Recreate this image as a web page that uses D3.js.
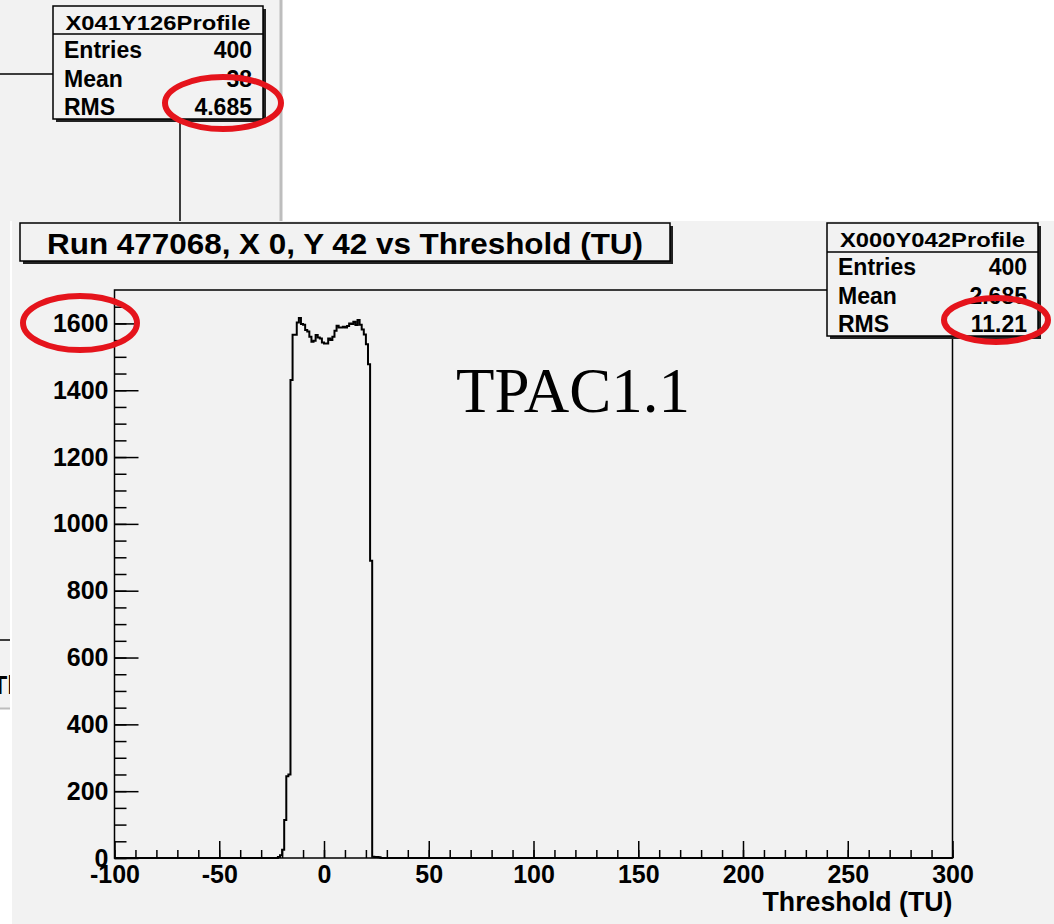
<!DOCTYPE html>
<html>
<head>
<meta charset="utf-8">
<script src="https://cdn.jsdelivr.net/npm/d3@7"></script>
<style>
  body { margin: 0; background: #fff; }
  svg { display: block; }
  text { font-family: "Liberation Sans", Arial, Helvetica, sans-serif; font-weight: bold; }
</style>
</head>
<body>
<div id="chart"></div>
<script>
/**
 * DATA
 * one bin per threshold unit, counts start at firstBin
 */
const firstBin = -22;
const counts = [3, 8, 25, 114, 245, 250,
  1431, 1566, 1566, 1603, 1616, 1598, 1596, 1580, 1576, 1560,
  1545, 1548, 1565, 1558, 1555, 1543, 1540, 1540, 1555, 1550,
  1560, 1578, 1593, 1588, 1588, 1590, 1588, 1592, 1600, 1598,
  1605, 1595, 1610, 1596, 1582, 1567, 1538, 1478, 890,
  4, 3, 3, 2];
const xTicks = [-100, -50, 0, 50, 100, 150, 200, 250, 300];
const yTicks = [0, 200, 400, 600, 800, 1000, 1200, 1400, 1600];

const titleText = "Run 477068, X 0, Y 42 vs Threshold (TU)";
const xTitle = "Threshold (TU)";
const statNames = ["Entries", "Mean", "RMS"];
const mainStats = { name: "X000Y042Profile", values: ["400", "2.685", "11.21"] };
const oldStats = { name: "X041Y126Profile", values: ["400", "38", "4.685"] };

/**
 * CONSTANTS
 */
const width = 1054, height = 924;
const bg = "#f2f2f2";
const frame = { left: 114.5, right: 952.5, top: 290, bottom: 858 };

const svg = d3.select("#chart").append("svg")
  .attr("width", width)
  .attr("height", height);

svg.append("rect").attr("width", width).attr("height", height).attr("fill", "#fff");

// ---- the window behind (only edges of it show) ----
const back = svg.append("g");
back.append("rect").attr("x", 0).attr("y", 0).attr("width", 281).attr("height", 221).attr("fill", bg);
back.append("rect").attr("x", 0).attr("y", 221).attr("width", 10).attr("height", 487).attr("fill", bg);
back.append("line").attr("x1", 281).attr("x2", 281).attr("y1", 0).attr("y2", 221)
  .attr("stroke", "#bdbdbd").attr("stroke-width", 3);
back.append("line").attr("x1", 0).attr("x2", 10).attr("y1", 708.5).attr("y2", 708.5)
  .attr("stroke", "#bdbdbd").attr("stroke-width", 2);
back.append("line").attr("x1", 0).attr("x2", 10).attr("y1", 640).attr("y2", 640)
  .attr("stroke", "#000").attr("stroke-width", 1.5);
back.append("clipPath").attr("id", "stripClip")
  .append("rect").attr("x", 0).attr("y", 221).attr("width", 10).attr("height", 487);
back.append("g").attr("clip-path", "url(#stripClip)")
  .append("text")
  .attr("x", -8).attr("y", 694)
  .attr("font-size", 25)
  .text("Th");
// old frame edges
back.append("line").attr("x1", 0).attr("x2", 53).attr("y1", 74).attr("y2", 74)
  .attr("stroke", "#000").attr("stroke-width", 1.5);
back.append("line").attr("x1", 180).attr("x2", 180).attr("y1", 119).attr("y2", 221)
  .attr("stroke", "#000").attr("stroke-width", 1.5);

function statBox(g, box, stats) {
  g.append("rect").attr("x", box.x + 3).attr("y", box.y + 3)
    .attr("width", box.w).attr("height", box.h).attr("fill", "#222");
  g.append("rect").attr("x", box.x).attr("y", box.y)
    .attr("width", box.w).attr("height", box.h)
    .attr("fill", bg).attr("stroke", "#000").attr("stroke-width", 1.5);
  g.append("line").attr("x1", box.x).attr("x2", box.x + box.w)
    .attr("y1", box.y + box.div).attr("y2", box.y + box.div)
    .attr("stroke", "#000").attr("stroke-width", 1.5);
  g.append("text").attr("x", box.x + box.w / 2).attr("y", box.y + 24)
    .attr("text-anchor", "middle").attr("font-size", 21)
    .attr("textLength", 185).attr("lengthAdjust", "spacingAndGlyphs")
    .text(stats.name);
  g.selectAll("text.lbl").data(statNames).join("text")
    .attr("class", "lbl")
    .attr("x", box.x + 11)
    .attr("y", (d, i) => box.y + 52 + i * 28.5)
    .attr("font-size", 23)
    .text(d => d);
  g.selectAll("text.val").data(stats.values).join("text")
    .attr("class", "val")
    .attr("x", box.x + box.w - 11)
    .attr("y", (d, i) => box.y + 52 + i * 28.5)
    .attr("text-anchor", "end")
    .attr("font-size", 23)
    .text(d => d);
}
statBox(back.append("g"), { x: 53, y: 6, w: 210, h: 113, div: 28 }, oldStats);

// ---- main window ----
svg.append("rect").attr("x", 12).attr("y", 221).attr("width", width - 12).attr("height", height - 221)
  .attr("fill", bg);

const x = d3.scaleLinear().domain([-100, 300]).range([frame.left, frame.right]);
const y = d3.scaleLinear().domain([0, 1700]).range([frame.bottom, frame.top]);

// minor ticks
svg.append("g").attr("transform", `translate(0,${frame.bottom})`)
  .call(d3.axisBottom(x).tickValues(d3.range(-100, 301, 10)).tickSizeInner(-8).tickSizeOuter(0).tickFormat(""))
  .call(g => g.select(".domain").remove());
svg.append("g").attr("transform", `translate(${frame.left},0)`)
  .call(d3.axisLeft(y).tickValues(d3.range(0, 1700, 50)).tickSizeInner(-12).tickSizeOuter(0).tickFormat(""))
  .call(g => g.select(".domain").remove());

// major ticks + labels (plain hyphen for negatives, as in the original)
svg.append("g").attr("transform", `translate(0,${frame.bottom})`)
  .call(d3.axisBottom(x).tickValues(xTicks).tickSizeInner(-17).tickSizeOuter(0).tickPadding(7).tickFormat(d => String(d)))
  .call(g => g.select(".domain").remove())
  .call(g => g.selectAll("text").attr("font-size", 25).attr("fill", "#000"));
svg.append("g").attr("transform", `translate(${frame.left},0)`)
  .call(d3.axisLeft(y).tickValues(yTicks).tickSizeInner(-24).tickSizeOuter(0).tickPadding(6).tickFormat(d => String(d)))
  .call(g => g.select(".domain").remove())
  .call(g => g.selectAll("text").attr("font-size", 25).attr("fill", "#000"));
svg.selectAll(".tick line").attr("stroke", "#000").attr("stroke-width", 1.5);

// histogram outline
const bins = d3.range(-100, 300).map(v => {
  const i = v - firstBin;
  return { x: v, n: (i >= 0 && i < counts.length) ? counts[i] : 0 };
});
bins.push({ x: 300, n: 0 });
svg.append("path")
  .datum(bins)
  .attr("fill", "none")
  .attr("stroke", "#000")
  .attr("stroke-width", 2)
  .attr("d", d3.line().x(d => x(d.x)).y(d => y(d.n)).curve(d3.curveStepAfter));

// frame
svg.append("rect")
  .attr("x", frame.left).attr("y", frame.top)
  .attr("width", frame.right - frame.left).attr("height", frame.bottom - frame.top)
  .attr("fill", "none").attr("stroke", "#000").attr("stroke-width", 1.5);

// axis title
svg.append("text").attr("x", frame.right).attr("y", 911)
  .attr("text-anchor", "end").attr("font-size", 27)
  .attr("textLength", 190).attr("lengthAdjust", "spacingAndGlyphs")
  .text(xTitle);

// title box
svg.append("rect").attr("x", 23).attr("y", 226).attr("width", 650).attr("height", 38).attr("fill", "#222");
svg.append("rect").attr("x", 20).attr("y", 223).attr("width", 650).attr("height", 38)
  .attr("fill", bg).attr("stroke", "#000").attr("stroke-width", 1.5);
svg.append("text").attr("x", 345).attr("y", 254)
  .attr("text-anchor", "middle").attr("font-size", 29)
  .attr("textLength", 596).attr("lengthAdjust", "spacingAndGlyphs")
  .text(titleText);

statBox(svg.append("g"), { x: 827, y: 223, w: 211, h: 113, div: 29 }, mainStats);

// annotation (serif, regular weight)
svg.append("text").attr("x", 456).attr("y", 412)
  .style("font-family", "'Liberation Serif', 'Times New Roman', serif")
  .style("font-weight", "normal")
  .style("font-size", "64px")
  .attr("textLength", 234).attr("lengthAdjust", "spacingAndGlyphs")
  .text("TPAC1.1");

// red highlight rings
const rings = [
  { cx: 223, cy: 103, rx: 58, ry: 26 },
  { cx: 80, cy: 323, rx: 57, ry: 27 },
  { cx: 996, cy: 320, rx: 52, ry: 22 }
];
svg.selectAll("ellipse.ring").data(rings).join("ellipse")
  .attr("class", "ring")
  .attr("cx", d => d.cx).attr("cy", d => d.cy)
  .attr("rx", d => d.rx).attr("ry", d => d.ry)
  .attr("fill", "none").attr("stroke", "#e5141c").attr("stroke-width", 6);
</script>
</body>
</html>
